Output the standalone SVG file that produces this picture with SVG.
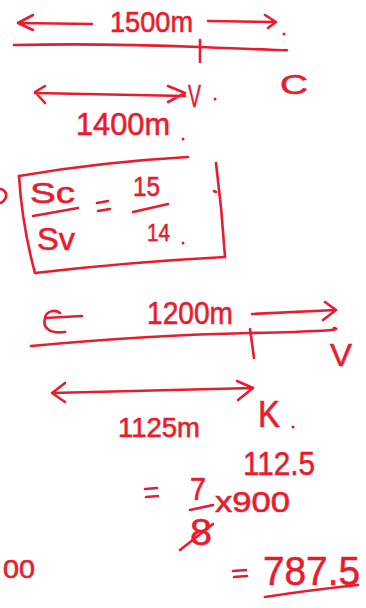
<svg xmlns="http://www.w3.org/2000/svg" width="366" height="608" viewBox="0 0 366 608">
<style>
.ink{fill:none;stroke:#e81c2e;stroke-width:2.6;stroke-linecap:round;stroke-linejoin:round}
.t{fill:#e81c2e;font-family:"Liberation Sans",Arial,sans-serif;stroke:#e81c2e;stroke-width:0.6}
.dot{fill:#e81c2e}
</style>
<rect width="366" height="608" fill="#ffffff"/>
<g id="connectors" class="ink">
<path d="M92,24 L18,23 M33,15 L18,23 L33,30"/>
<path d="M208,21 L276,22 M265,15 L276,22 L268,28"/>
<path d="M14,45 Q100,43 200,47 T285,50"/>
<path d="M200,40 L200,62"/>
<path d="M35,93 L185,96 M45,86 L35,92 L45,103 M168,86 L185,93 L168,102"/>
<path d="M82,316 L45,318 C46,311 55,309 60,313 M45,318 C42,328 50,334 65,332"/>
<path d="M252,314 L336,310 M325,302 L336,310 L323,320"/>
<path d="M31,346 Q150,335 250,333 T334,328"/>
<path d="M250,329 L254,358"/>
<path d="M52,393 L253,388 M65,383 L52,393 L65,402 M237,381 L253,388 L238,400"/>
<path d="M190,510 L213,505"/>
<path d="M180,550 L213,524"/>
<path d="M265,597 Q310,590 358,585"/>
</g>
<g id="box" class="ink">
<path d="M19,176 Q100,162 188,157"/>
<path d="M19,176 Q22,225 35,273"/>
<path d="M35,273 Q130,262 225,257"/>
<path d="M225,257 Q222,210 216,163"/>
<path d="M214,191 L216,192"/>
<path d="M33,216 L78,208"/>
<path d="M133,212 L168,204"/>
<path d="M97,203 L108,201 M98,211 L110,209"/>
<path d="M1,189 Q7,191 6,197 Q4,202 0,203"/>
</g>
<g id="n1500"><text class="t" x="110" y="32" font-size="30" textLength="83" lengthAdjust="spacingAndGlyphs">1500m</text></g>
<g id="nV1"><text class="t" x="188" y="107" font-size="32" textLength="13" lengthAdjust="spacingAndGlyphs">V</text><circle class="dot" cx="215" cy="99" r="1.5"/></g>
<g id="nC"><text class="t" x="280" y="94" font-size="27" textLength="28" lengthAdjust="spacingAndGlyphs">C</text></g>
<g id="ndot1"><circle class="dot" cx="284" cy="34" r="1.5"/></g>
<g id="n1400"><text class="t" x="76" y="135" font-size="32" textLength="94" lengthAdjust="spacingAndGlyphs">1400m</text><circle class="dot" cx="183" cy="139" r="1.5"/></g>
<g id="nratio">
<text class="t" x="30" y="203" font-size="30" textLength="45" lengthAdjust="spacingAndGlyphs">Sc</text>
<text class="t" x="37" y="250" font-size="32" textLength="38" lengthAdjust="spacingAndGlyphs">Sv</text>
<text class="t" x="133" y="196" font-size="28" textLength="27" lengthAdjust="spacingAndGlyphs">15</text>
<text class="t" x="147" y="241" font-size="24" textLength="23" lengthAdjust="spacingAndGlyphs">14</text>
<circle class="dot" cx="183" cy="243" r="1.5"/>
</g>
<g id="n1200"><text class="t" x="147" y="324" font-size="31" textLength="86" lengthAdjust="spacingAndGlyphs">1200m</text></g>
<g id="nV2"><text class="t" x="330" y="366" font-size="32" textLength="22" lengthAdjust="spacingAndGlyphs">V</text></g>
<g id="nK"><text class="t" x="258" y="427" font-size="36" textLength="22" lengthAdjust="spacingAndGlyphs">K</text><circle class="dot" cx="293" cy="427" r="1.5"/></g>
<g id="n1125"><text class="t" x="118" y="437" font-size="27" textLength="82" lengthAdjust="spacingAndGlyphs">1125m</text></g>
<g id="ncalc">
<text class="t" x="243" y="475" font-size="34" textLength="72" lengthAdjust="spacingAndGlyphs">112.5</text>
<path class="ink" d="M145,489 L157,488 M146,497 L158,496"/>
<text class="t" x="190" y="500" font-size="31" textLength="16" lengthAdjust="spacingAndGlyphs">7</text>
<text class="t" x="215" y="512" font-size="30" textLength="75" lengthAdjust="spacingAndGlyphs">x900</text>
<text class="t" x="190" y="545" font-size="36" textLength="22" lengthAdjust="spacingAndGlyphs">8</text>
<text class="t" x="3" y="578" font-size="25" textLength="32" lengthAdjust="spacingAndGlyphs">00</text>
<path class="ink" d="M233,571 L246,570 M234,577 L247,576"/>
<text class="t" x="263" y="585" font-size="41" textLength="97" lengthAdjust="spacingAndGlyphs">787.5</text>
</g>
</svg>
